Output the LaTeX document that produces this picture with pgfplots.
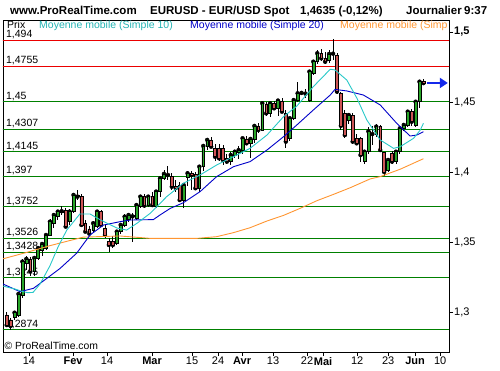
\documentclass[border=0pt]{standalone}
\usepackage{fontspec}
\setmainfont{Liberation Sans}
\usepackage{pgfplots}
\usepackage{pgfplotstable}
\pgfplotsset{compat=1.18}
\usetikzlibrary{arrows.meta}
\definecolor{cgreen}{RGB}{40,165,40}
\definecolor{cred}{RGB}{205,85,85}
\definecolor{lgreen}{RGB}{0,128,0}
\definecolor{lred}{RGB}{235,0,0}
\definecolor{macyan}{RGB}{40,200,200}
\definecolor{mablue}{RGB}{0,0,200}
\definecolor{maorange}{RGB}{255,150,50}
\definecolor{arrowblue}{RGB}{20,40,235}

\pgfplotstableread{
i O H L C
0 1.2979 1.3000 1.2890 1.2907
1 1.2943 1.2960 1.2874 1.2900
2 1.2964 1.3005 1.2945 1.2995
3 1.2979 1.3140 1.2965 1.3129
4 1.3121 1.3379 1.3100 1.3360
5 1.3350 1.3400 1.3300 1.3379
6 1.3379 1.3390 1.3255 1.3290
7 1.3290 1.3400 1.3260 1.3386
8 1.3386 1.3470 1.3370 1.3457
9 1.3443 1.3500 1.3400 1.3486
10 1.3457 1.3560 1.3440 1.3550
11 1.3550 1.3667 1.3540 1.3645
12 1.3634 1.3700 1.3600 1.3693
13 1.3681 1.3730 1.3660 1.3717
14 1.3712 1.3757 1.3690 1.3720
15 1.3724 1.3740 1.3600 1.3610
16 1.3645 1.3735 1.3620 1.3717
17 1.3717 1.3850 1.3705 1.3836
18 1.3836 1.3871 1.3800 1.3824
19 1.3824 1.3840 1.3610 1.3622
20 1.3634 1.3660 1.3565 1.3574
21 1.3593 1.3615 1.3540 1.3560
22 1.3586 1.3650 1.3570 1.3634
23 1.3610 1.3730 1.3600 1.3717
24 1.3717 1.3730 1.3610 1.3622
25 1.3598 1.3620 1.3530 1.3550
26 1.3502 1.3530 1.3431 1.3479
27 1.3502 1.3543 1.3460 1.3479
28 1.3493 1.3580 1.3480 1.3574
29 1.3574 1.3630 1.3560 1.3622
30 1.3622 1.3700 1.3605 1.3681
31 1.3665 1.3710 1.3640 1.3693
32 1.3690 1.3705 1.3500 1.3683
33 1.3669 1.3780 1.3660 1.3764
34 1.3752 1.3830 1.3740 1.3824
35 1.3824 1.3840 1.3745 1.3760
36 1.3760 1.3830 1.3750 1.3824
37 1.3824 1.3860 1.3750 1.3764
38 1.3752 1.3870 1.3740 1.3860
39 1.3860 1.3960 1.3820 1.3955
40 1.3955 1.4014 1.3940 1.3986
41 1.3986 1.4043 1.3940 1.3979
42 1.3967 1.3990 1.3870 1.3895
43 1.3895 1.3940 1.3860 1.3886
44 1.3907 1.3930 1.3790 1.3800
45 1.3800 1.3920 1.3740 1.3907
46 1.3965 1.4010 1.3900 1.3991
47 1.3991 1.4010 1.3870 1.3979
48 1.3984 1.4000 1.3870 1.3884
49 1.3884 1.4050 1.3860 1.4038
50 1.4038 1.4200 1.4010 1.4186
51 1.4181 1.4245 1.4160 1.4229
52 1.4224 1.4250 1.4170 1.4181
53 1.4169 1.4200 1.4080 1.4109
54 1.4169 1.4200 1.4080 1.4098
55 1.4169 1.4190 1.4050 1.4086
56 1.4098 1.4130 1.4060 1.4074
57 1.4074 1.4140 1.4050 1.4121
58 1.4121 1.4160 1.4100 1.4145
59 1.4140 1.4185 1.4090 1.4157
60 1.4157 1.4250 1.4130 1.4241
61 1.4236 1.4260 1.4190 1.4205
62 1.4205 1.4250 1.4100 1.4236
63 1.4231 1.4340 1.4210 1.4329
64 1.4329 1.4350 1.4280 1.4300
65 1.4300 1.4500 1.4290 1.4491
66 1.4486 1.4500 1.4400 1.4419
67 1.4419 1.4500 1.4390 1.4491
68 1.4491 1.4510 1.4440 1.4455
69 1.4455 1.4520 1.4400 1.4510
70 1.4502 1.4530 1.4420 1.4431
71 1.4419 1.4440 1.4169 1.4217
72 1.4241 1.4395 1.4225 1.4384
73 1.4384 1.4525 1.4370 1.4514
74 1.4514 1.4640 1.4500 1.4562
75 1.4562 1.4575 1.4550 1.4565
76 1.4565 1.4590 1.4530 1.4560
77 1.4514 1.4730 1.4500 1.4717
78 1.4705 1.4800 1.4690 1.4788
79 1.4788 1.4870 1.4770 1.4848
80 1.4848 1.4880 1.4790 1.4812
81 1.4812 1.4860 1.4770 1.4788
82 1.4795 1.4870 1.4780 1.4843
83 1.4838 1.4948 1.4800 1.4845
84 1.4836 1.4850 1.4560 1.4574
85 1.4562 1.4570 1.4300 1.4330
86 1.4420 1.4445 1.4240 1.4264
87 1.4367 1.4420 1.4340 1.4407
88 1.4407 1.4420 1.4200 1.4217
89 1.4241 1.4270 1.4190 1.4205
90 1.4241 1.4250 1.4070 1.4121
91 1.4074 1.4160 1.4060 1.4145
92 1.4145 1.4320 1.4130 1.4290
93 1.4280 1.4330 1.4195 1.4271
94 1.4270 1.4340 1.4250 1.4324
95 1.4324 1.4335 1.4140 1.4157
96 1.4138 1.4145 1.3972 1.4000
97 1.4014 1.4100 1.4000 1.4086
98 1.4134 1.4150 1.4060 1.4074
99 1.4074 1.4160 1.4060 1.4145
100 1.4145 1.4320 1.4130 1.4312
101 1.4312 1.4345 1.4295 1.4336
102 1.4336 1.4445 1.4320 1.4431
103 1.4431 1.4450 1.4330 1.4359
104 1.4336 1.4510 1.4320 1.4502
105 1.4502 1.4655 1.4460 1.4645
106 1.4645 1.4665 1.4625 1.4635
}\candles

\pgfplotsset{
  base/.style={at={(0pt,0pt)}, anchor=south west, scale only axis,
    width=446pt, height=332pt,
    xmin=-0.94, xmax=112.5, ymin=1.27143, ymax=1.50857},
}
\tikzset{lvl/.style={anchor=base west, inner sep=0pt, font=\fontsize{10.5}{11}\selectfont}}

\begin{document}
\begin{tikzpicture}
\path[use as bounding box] (-3pt,-18pt) rectangle (497pt,352pt);
\begin{axis}[base,
  axis line style={line width=0.8pt},
  tick align=outside, major tick length=4pt,
  ytick pos=right, yticklabel pos=right,
  xtick pos=left,
  ytick={1.3,1.35,1.4,1.45,1.5},
  yticklabels={{1,3},{1,35},{1,4},{1,45},{\textbf{1,5}}},
  xtick={5.67,16.87,25.52,36.97,47.15,53.77,59.87,67.76,76.41,80.48,89.13,97.02,103.89,110.25},
  xticklabels={14,\textbf{Fev},14,\textbf{Mar},15,24,\textbf{Avr},13,22,\textbf{Mai},12,23,\textbf{Jun},10},
  tick style={black, line width=0.6pt},
  ticklabel style={font=\fontsize{11}{12}\selectfont, inner sep=1pt},
  yticklabel style={anchor=west},
  xticklabel style={anchor=north},
]
\addplot[lred, line width=1pt] coordinates {(-2,1.494) (114,1.494)};
\addplot[lred, line width=1pt] coordinates {(-2,1.4755) (114,1.4755)};
\addplot[lgreen, line width=1pt] coordinates {(-2,1.45) (114,1.45)};
\addplot[lgreen, line width=1pt] coordinates {(-2,1.4307) (114,1.4307)};
\addplot[lgreen, line width=1pt] coordinates {(-2,1.4145) (114,1.4145)};
\addplot[lgreen, line width=1pt] coordinates {(-2,1.397) (114,1.397)};
\addplot[lgreen, line width=1pt] coordinates {(-2,1.3752) (114,1.3752)};
\addplot[lgreen, line width=1pt] coordinates {(-2,1.3526) (114,1.3526)};
\addplot[lgreen, line width=1pt] coordinates {(-2,1.3428) (114,1.3428)};
\addplot[lgreen, line width=1pt] coordinates {(-2,1.3245) (114,1.3245)};
\addplot[lgreen, line width=1pt] coordinates {(-2,1.2874) (114,1.2874)};
\node[lvl] at (axis cs:-0.2,1.4958) {1,494};
\node[lvl] at (axis cs:-0.2,1.4773) {1,4755};
\node[lvl] at (axis cs:-0.2,1.4518) {1,45};
\node[lvl] at (axis cs:-0.2,1.4325) {1,4307};
\node[lvl] at (axis cs:-0.2,1.4163) {1,4145};
\node[lvl] at (axis cs:-0.2,1.3988) {1,397};
\node[lvl] at (axis cs:-0.2,1.3770) {1,3752};
\node[lvl] at (axis cs:-0.2,1.3544) {1,3526};
\node[lvl] at (axis cs:-0.2,1.3446) {1,3428};
\node[lvl] at (axis cs:-0.2,1.3263) {1,3245};
\node[lvl] at (axis cs:-0.2,1.2892) {1,2874};
\node[lvl, font=\fontsize{10.4}{11}\selectfont] at (axis cs:-0.56,1.2732) {© ProRealTime.com};
\addplot[only marks, mark=none,
  error bars/.cd, y dir=both, y explicit, error mark=none,
  error bar style={black, line width=0.8pt}]
  table[x=i, y=C, y error plus expr={\thisrow{H}-\thisrow{C}}, y error minus expr={\thisrow{C}-\thisrow{L}}] {\candles};
\end{axis}

\begin{axis}[base, hide axis, ybar stacked, bar width=2.8pt]
\addplot[draw=none, fill=none] table[x=i, y expr={min(\thisrow{O},\thisrow{C})}] {\candles};
\addplot[draw=black, line width=0.5pt, fill=cgreen] table[x=i, y expr={max(\thisrow{C}-\thisrow{O},0)}] {\candles};
\addplot[draw=black, line width=0.5pt, fill=cred] table[x=i, y expr={max(\thisrow{O}-\thisrow{C},0)}] {\candles};
\end{axis}

\begin{axis}[base, hide axis]
\addplot[maorange, line width=0.9pt] coordinates {(-0.94,1.3380) (5,1.3425) (11,1.3474) (19.5,1.3535) (28.8,1.3543) (36.5,1.3526) (48.4,1.3526) (53.4,1.3538) (57.7,1.3567) (61.9,1.3602) (66.2,1.3650) (70.4,1.3690) (74.6,1.3740) (78.9,1.3795) (83.1,1.3840) (87.4,1.3888) (92.4,1.3950) (95,1.3967) (100.1,1.4020) (106,1.4095)};
\addplot[mablue, line width=0.9pt] coordinates {(-0.94,1.3200) (3.4,1.3145) (6.8,1.3169) (10.2,1.3240) (13.6,1.3312) (17.8,1.3420) (21.2,1.3550) (24.6,1.3621) (28.8,1.3645) (31.4,1.3657) (37.3,1.3660) (39,1.3693) (41.6,1.3740) (44.9,1.3780) (49.2,1.3860) (53.4,1.3967) (57.7,1.4038) (61.9,1.4074) (66.2,1.4157) (70.4,1.4252) (73.8,1.4336) (78,1.4443) (82.3,1.4550) (83.5,1.4590) (86.5,1.4579) (90.7,1.4550) (95,1.4479) (99.2,1.4348) (102.6,1.4257) (104.3,1.4264) (106,1.4288)};
\addplot[macyan, line width=0.9pt] coordinates {(-0.94,1.3185) (2,1.3165) (4.2,1.3145) (5.4,1.3138) (6.7,1.3140) (8.5,1.3200) (11,1.3330) (13.1,1.3467) (15.3,1.3586) (18.6,1.3700) (21.2,1.3700) (23.7,1.3660) (28,1.3600) (30.5,1.3585) (33.1,1.3633) (36.5,1.3705) (40.7,1.3824) (44.9,1.3919) (49.2,1.3979) (53.4,1.4050) (57.7,1.4110) (61.9,1.4169) (66.2,1.4264) (70.4,1.4395) (73.8,1.4471) (78,1.4610) (82.3,1.4734) (83.5,1.4729) (86.5,1.4657) (89.1,1.4526) (91.6,1.4371) (95,1.4229) (98.4,1.4169) (100.1,1.4181) (103.5,1.4241) (105.2,1.4300) (106,1.4348)};
\draw[arrowblue, line width=2.6pt, -{Triangle[length=8pt,width=10pt]}] (axis cs:106.9,1.4636) -- (axis cs:112.2,1.4636);
\end{axis}

\begin{scope}[every node/.style={anchor=base west, inner sep=0pt, font=\fontsize{11.5}{12}\selectfont\bfseries}]
\node at (7pt,337pt) {www.ProRealTime.com};
\node at (147pt,337pt) {EURUSD - EUR/USD Spot};
\node at (297pt,337pt) {1,4635 (-0,12\%)};
\node at (403pt,337pt) {Journalier};
\node at (461pt,337pt) {9:37};
\end{scope}
\begin{scope}[every node/.style={anchor=base west, inner sep=0pt, font=\fontsize{10.5}{11}\selectfont}]
\clip (0pt,0pt) rectangle (446pt,332pt);
\node at (4pt,323.5pt) {Prix};
\node[text=macyan!90!black] at (36pt,323.5pt) {Moyenne mobile (Simple 10)};
\node[text=mablue] at (187pt,323.5pt) {Moyenne mobile (Simple 20)};
\node[text=maorange] at (337pt,323.5pt) {Moyenne mobile (Simp};
\end{scope}
\end{tikzpicture}
\end{document}
